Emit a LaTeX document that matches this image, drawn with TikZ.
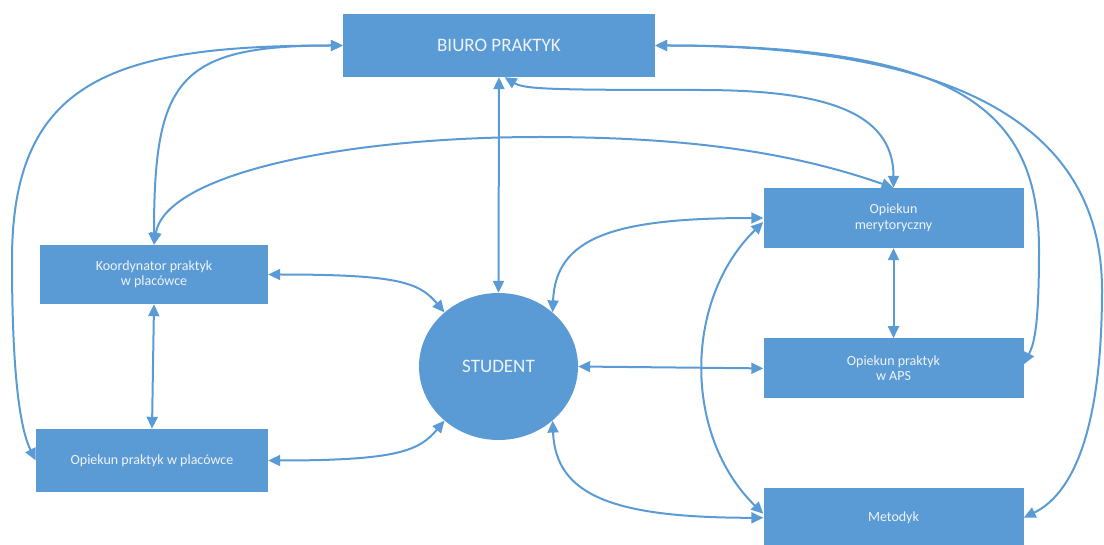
\documentclass[tikz,border=0pt]{standalone}
\usepackage{fontspec}
\setmainfont{Carlito}
\usetikzlibrary{arrows.meta, positioning, shapes.geometric}

\definecolor{office}{RGB}{91,155,213}
\definecolor{paletext}{RGB}{238,243,250}

\begin{document}
\begin{tikzpicture}[
  x=1pt, y=-1pt,
  box/.style={rectangle, fill=office, text=paletext, align=center, inner sep=0pt,
    font=\fontsize{14}{15.5}\selectfont},
  bigbox/.style={box, font=\fontsize{19}{22}\selectfont},
  edge/.style={{Triangle[length=12pt,width=11pt]}-{Triangle[length=12pt,width=11pt]}, draw=office, line width=2pt}
]
\useasboundingbox (0,0) rectangle (1104,545);

\node[bigbox, minimum width=312pt, minimum height=63pt] (biuro) at (499,45.5) {BIURO PRAKTYK};
\node[bigbox, ellipse, minimum width=159pt, minimum height=147pt] (student) at (498.5,366.5) {STUDENT};
\node[box, minimum width=228pt, minimum height=59pt] (koord) at (154,274.5) {Koordynator praktyk\\ w placówce};
\node[box, minimum width=232pt, minimum height=63pt] (placowka) at (152,460.5) {Opiekun praktyk w placówce};
\node[box, minimum width=260pt, minimum height=60pt] (mer) at (893.5,218) {Opiekun\\ merytoryczny};
\node[box, minimum width=260pt, minimum height=60pt, below=90pt of mer] (aps) {Opiekun praktyk\\ w APS};
\node[box, minimum width=260pt, minimum height=60pt, below=89pt of aps] (metodyk) {Metodyk};

% biuro praktyk
\draw[edge] (biuro.west) .. controls +(-230,0) and +(0,-180) .. (12,260) .. controls +(0,120) and +(-15,-30) .. (placowka.west);
\draw[edge] (biuro.west) .. controls +(-165,0) and +(0,-165) .. (koord.north);
\draw[edge] (biuro.-80) .. controls +(20,12) and +(-150,0) .. (700,90) .. controls +(120,0) and +(0,-78) .. (mer.north);
\draw[edge] (biuro.south) -- (student.north);
\draw[edge] (biuro.east) .. controls +(305,0) and +(0,-140) .. (1039,250) .. controls +(0,80) and +(10,-20) .. ([yshift=4pt]aps.east);
\draw[edge] (biuro.east) .. controls +(325,0) and +(0,-150) .. (1102,290) .. controls +(0,150) and +(45,-22) .. (metodyk.east);

% koordynator i opiekun w placowce
\draw[edge] (koord.north) .. controls +(11,-70) and +(-200,0) .. (540,137) .. controls +(150,0) and +(-100,-35) .. (mer.north);
\draw[edge] (koord.east) .. controls +(130,0) and +(-25,-30) .. (student.135);
\draw[edge] (koord.south) -- (placowka.north);
\draw[edge] (placowka.east) .. controls +(130,0) and +(-25,30) .. (student.225);

% student
\draw[edge] (student.east) -- (aps.west);
\draw[edge] (student.45) .. controls +(3,-75) and +(-150,0) .. (mer.west);
\draw[edge] (student.-45) .. controls +(3,75) and +(-150,0) .. (metodyk.west);

% prawa kolumna
\draw[edge] ([yshift=-4pt]mer.west) .. controls +(-80,78) and +(-80,-78) .. ([yshift=4pt]metodyk.west);
\draw[edge] (mer.south) -- (aps.north);
\end{tikzpicture}
\end{document}
